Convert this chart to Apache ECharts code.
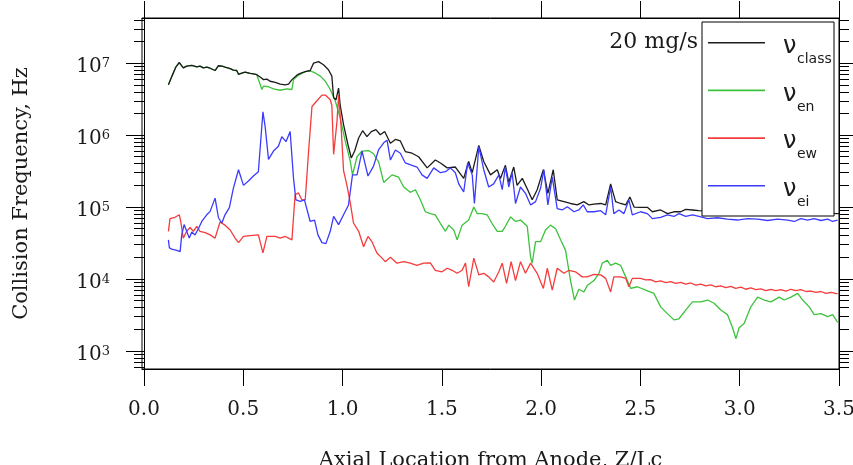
<!DOCTYPE html>
<html>
<head>
<meta charset="utf-8">
<script src="https://cdn.jsdelivr.net/npm/echarts@6/dist/echarts.min.js"></script>
<style>
  html, body { margin: 0; padding: 0; background: #fff; }
  #chart { width: 853px; height: 465px; }
</style>
</head>
<body>
<div id="chart"></div>
<script>
// Axial profiles of collision frequencies (Hz) vs. axial location Z/Lc, 20 mg/s case.

// nu_class
const classX = [0.123,0.141,0.161,0.178,0.198,0.215,0.241,0.266,0.282,0.299,0.316,0.333,0.358,0.375,0.393,0.408,0.434,0.450,0.467,0.476,0.489,0.509,0.535,0.551,0.568,0.585,0.602,0.619,0.635,0.661,0.686,0.711,0.728,0.745,0.770,0.787,0.812,0.837,0.854,0.879,0.904,0.929,0.946,0.955,0.967,0.980,0.988,1.005,1.027,1.044,1.061,1.081,1.101,1.123,1.145,1.168,1.190,1.212,1.241,1.266,1.291,1.316,1.350,1.383,1.426,1.467,1.493,1.527,1.568,1.610,1.635,1.653,1.686,1.711,1.745,1.779,1.795,1.820,1.837,1.862,1.879,1.905,1.930,1.955,1.980,2.011,2.034,2.061,2.081,2.115,2.148,2.182,2.215,2.241,2.266,2.300,2.325,2.350,2.375,2.400,2.426,2.447,2.468,2.501,2.535,2.560,2.602,2.636,2.669,2.703,2.728,2.762,2.794,2.905,3.106,3.308,3.500];
const classY = [5.0e6,6.6e6,8.9e6,1.02e7,8.6e6,9.1e6,9.3e6,8.9e6,9.1e6,8.6e6,8.8e6,8.5e6,7.9e6,9.2e6,9.1e6,8.8e6,8.4e6,8.0e6,7.9e6,7.0e6,7.2e6,7.5e6,7.2e6,7.1e6,6.9e6,6.4e6,5.9e6,6.0e6,5.6e6,5.4e6,5.1e6,5.0e6,5.1e6,5.9e6,6.8e6,7.2e6,7.6e6,7.9e6,1.0e7,1.05e7,9.5e6,8.1e6,6.6e6,3.3e6,3.1e6,4.5e6,2.6e6,1.4e6,7.4e5,4.8e5,6.0e5,9.1e5,1.15e6,9.5e5,1.12e6,1.19e6,1.01e6,1.12e6,7.7e5,8.7e5,8.3e5,5.9e5,5.6e5,5.0e5,3.5e5,4.5e5,4.1e5,3.5e5,3.6e5,2.5e5,4.3e5,3.0e5,7.2e5,4.3e5,2.8e5,3.3e5,2.5e5,3.8e5,2.2e5,3.6e5,2.0e5,2.5e5,1.8e5,1.26e5,1.74e5,3.3e5,1.55e5,3.3e5,1.26e5,1.19e5,1.12e5,1.07e5,1.19e5,1.07e5,1.1e5,1.12e5,1.07e5,2.1e5,1.19e5,1.12e5,1.07e5,1.38e5,1.0e5,9.9e4,9.9e4,8.6e4,9.1e4,8.1e4,8.6e4,8.6e4,9.3e4,9.1e4,8.9e4,8.7e4,8.5e4,8.3e4,8.1e4];

// nu_en
const enX = [0.123,0.141,0.161,0.178,0.198,0.215,0.241,0.266,0.282,0.299,0.316,0.333,0.358,0.375,0.393,0.408,0.434,0.450,0.467,0.476,0.489,0.509,0.535,0.551,0.568,0.594,0.602,0.627,0.652,0.686,0.720,0.745,0.753,0.778,0.812,0.837,0.862,0.888,0.913,0.938,0.963,0.988,1.014,1.039,1.050,1.073,1.098,1.131,1.156,1.182,1.207,1.215,1.249,1.282,1.308,1.341,1.367,1.392,1.417,1.442,1.467,1.493,1.518,1.535,1.560,1.577,1.602,1.635,1.661,1.678,1.703,1.728,1.753,1.779,1.804,1.820,1.846,1.871,1.896,1.930,1.947,1.955,1.972,1.997,2.022,2.047,2.073,2.098,2.123,2.148,2.168,2.190,2.215,2.232,2.266,2.291,2.308,2.333,2.350,2.375,2.400,2.426,2.451,2.485,2.526,2.568,2.602,2.636,2.669,2.694,2.728,2.762,2.804,2.838,2.871,2.905,2.938,2.964,2.981,2.997,3.022,3.056,3.090,3.123,3.157,3.199,3.224,3.258,3.292,3.317,3.350,3.375,3.409,3.443,3.468,3.493];
const enY = [5.0e6,6.6e6,8.9e6,1.02e7,8.6e6,9.1e6,9.3e6,8.9e6,9.1e6,8.6e6,8.8e6,8.5e6,7.9e6,9.2e6,9.1e6,8.8e6,8.4e6,8.0e6,7.9e6,7.0e6,7.2e6,7.5e6,7.2e6,7.1e6,6.9e6,4.3e6,4.8e6,4.7e6,4.4e6,4.2e6,4.4e6,4.3e6,5.9e6,6.8e6,7.6e6,7.8e6,7.3e6,6.6e6,5.6e6,4.3e6,3.0e6,1.74e6,8.1e5,4.3e5,2.8e5,5.0e5,6.0e5,6.1e5,5.5e5,4.2e5,2.2e5,2.2e5,2.8e5,2.6e5,1.9e5,1.6e5,1.74e5,1.26e5,8.6e4,8.1e4,7.8e4,5.9e4,4.6e4,5.6e4,4.8e4,3.5e4,5.6e4,6.6e4,1.0e5,8.1e4,8.1e4,7.8e4,5.9e4,4.6e4,4.6e4,5.4e4,7.3e4,6.3e4,6.6e4,5.4e4,2.0e4,1.66e4,3.3e4,3.3e4,4.8e4,5.6e4,5.0e4,3.5e4,2.5e4,9.5e3,5.1e3,7.2e3,6.6e3,8.1e3,9.5e3,1.2e4,1.66e4,1.82e4,1.55e4,1.66e4,1.55e4,1.07e4,7.4e3,7.8e3,7.0e3,6.3e3,4.1e3,3.3e3,2.7e3,2.8e3,3.7e3,4.8e3,4.8e3,5.1e3,4.6e3,3.7e3,3.2e3,2.1e3,1.48e3,2.1e3,2.4e3,4.1e3,5.6e3,5.1e3,4.8e3,5.6e3,5.1e3,5.6e3,6.3e3,5.1e3,4.1e3,3.2e3,3.3e3,3.0e3,3.2e3,2.5e3];

// nu_ew
const ewX = [0.123,0.131,0.156,0.178,0.185,0.198,0.215,0.232,0.249,0.266,0.282,0.308,0.333,0.358,0.383,0.408,0.434,0.459,0.476,0.501,0.535,0.576,0.599,0.619,0.661,0.686,0.711,0.728,0.745,0.761,0.778,0.795,0.812,0.829,0.846,0.871,0.896,0.913,0.938,0.946,0.955,0.963,0.972,0.980,0.993,1.005,1.022,1.039,1.055,1.081,1.106,1.128,1.148,1.173,1.199,1.215,1.241,1.274,1.308,1.341,1.375,1.408,1.442,1.467,1.501,1.527,1.552,1.577,1.602,1.619,1.635,1.661,1.686,1.711,1.736,1.761,1.787,1.804,1.826,1.849,1.871,1.896,1.921,1.947,1.980,2.011,2.031,2.056,2.081,2.115,2.140,2.173,2.207,2.232,2.266,2.300,2.325,2.350,2.366,2.400,2.426,2.442,2.459,2.501,2.526,2.551,2.577,2.602,2.627,2.653,2.678,2.703,2.728,2.753,2.779,2.804,2.829,2.854,2.879,2.905,2.930,2.955,2.980,3.006,3.031,3.056,3.081,3.106,3.132,3.157,3.182,3.207,3.233,3.258,3.283,3.308,3.334,3.359,3.384,3.409,3.434,3.460,3.493];
const ewY = [4.6e4,6.9e4,7.2e4,7.8e4,6.3e4,3.7e4,4.6e4,5.2e4,4.6e4,5.4e4,4.6e4,4.4e4,4.1e4,3.7e4,6.2e4,5.6e4,4.8e4,3.7e4,3.2e4,3.9e4,4.0e4,4.1e4,2.3e4,3.9e4,3.9e4,3.7e4,3.9e4,3.7e4,3.5e4,1.48e5,1.57e5,1.26e5,1.26e5,6.0e5,2.5e6,3.0e6,3.6e6,3.6e6,3.1e6,2.6e6,5.4e5,5.6e5,1.55e6,3.6e6,1.26e6,3.2e5,2.0e5,1.14e5,6.0e4,4.6e4,2.8e4,3.9e4,3.3e4,2.3e4,1.95e4,1.74e4,2.0e4,1.66e4,1.74e4,1.66e4,1.55e4,1.66e4,1.68e4,1.32e4,1.26e4,1.41e4,1.32e4,1.2e4,1.32e4,1.66e4,7.8e3,1.95e4,1.14e4,1.2e4,1.07e4,9.1e3,1.26e4,1.66e4,8.7e3,1.74e4,9.5e3,1.74e4,1.2e4,1.66e4,1.2e4,7.4e3,1.41e4,7.0e3,1.41e4,1.2e4,1.32e4,1.26e4,1.07e4,1.07e4,1.16e4,1.14e4,1.02e4,6.6e3,1.07e4,1.07e4,1.02e4,7.8e3,1.02e4,1.02e4,9.7e3,9.8e3,9.1e3,9.4e3,8.9e3,9.2e3,8.7e3,9.0e3,8.5e3,8.8e3,8.2e3,8.5e3,8.0e3,8.3e3,7.8e3,8.0e3,7.6e3,7.9e3,7.4e3,7.7e3,7.2e3,7.5e3,7.1e3,7.3e3,6.9e3,7.2e3,6.9e3,7.1e3,6.8e3,7.2e3,6.9e3,7.1e3,6.7e3,6.8e3,6.5e3,6.7e3,6.3e3,6.5e3,6.2e3];

// nu_ei
const eiX = [0.123,0.128,0.140,0.165,0.182,0.190,0.202,0.215,0.228,0.241,0.257,0.274,0.291,0.316,0.333,0.358,0.375,0.392,0.408,0.430,0.450,0.476,0.501,0.526,0.551,0.576,0.599,0.610,0.627,0.652,0.677,0.694,0.715,0.736,0.753,0.765,0.787,0.808,0.837,0.859,0.876,0.896,0.916,0.938,0.955,0.980,1.005,1.030,1.050,1.073,1.098,1.106,1.128,1.156,1.182,1.207,1.224,1.241,1.266,1.291,1.316,1.350,1.375,1.400,1.426,1.459,1.493,1.518,1.543,1.568,1.585,1.610,1.630,1.653,1.664,1.686,1.711,1.736,1.761,1.787,1.804,1.820,1.837,1.854,1.871,1.896,1.921,1.947,1.972,1.997,2.014,2.034,2.056,2.081,2.106,2.132,2.165,2.190,2.212,2.232,2.266,2.300,2.325,2.350,2.366,2.392,2.417,2.442,2.459,2.501,2.535,2.560,2.602,2.636,2.669,2.694,2.728,2.762,2.795,2.838,2.888,2.938,2.989,3.039,3.090,3.140,3.191,3.241,3.275,3.308,3.342,3.375,3.409,3.443,3.468,3.493];
const eiY = [3.5e4,2.7e4,2.6e4,2.5e4,2.4e4,4.1e4,5.7e4,4.6e4,3.7e4,4.5e4,4.1e4,5.0e4,6.3e4,7.8e4,8.7e4,1.33e5,7.1e4,6.0e4,7.8e4,9.8e4,1.82e5,3.3e5,2.0e5,2.3e5,2.7e5,3.1e5,2.1e6,1.32e6,4.6e5,6.0e5,7.0e5,9.5e5,8.1e5,1.12e6,2.5e5,1.26e5,1.2e5,1.26e5,6.3e4,6.6e4,4.1e4,3.2e4,3.1e4,4.6e4,7.4e4,5.7e4,7.8e4,1.07e5,2.8e5,2.8e5,6.0e5,6.2e5,2.7e5,3.7e5,6.3e5,7.8e5,8.5e5,4.5e5,6.2e5,5.6e5,4.1e5,3.8e5,3.6e5,2.8e5,2.5e5,3.5e5,3.0e5,3.1e5,3.5e5,3.0e5,2.1e5,1.62e5,4.1e5,2.8e5,1.12e5,6.9e5,3.3e5,1.9e5,2.1e5,2.8e5,1.74e5,3.6e5,1.9e5,3.0e5,1.12e5,1.9e5,1.55e5,1.07e5,1.19e5,1.82e5,3.3e5,1.07e5,2.6e5,9.5e4,9.1e4,1.01e5,8.6e4,9.1e4,1.07e5,8.6e4,8.6e4,8.9e4,7.8e4,1.9e5,8.1e4,9.1e4,8.1e4,1.26e5,7.8e4,8.6e4,8.1e4,6.9e4,7.2e4,7.8e4,7.4e4,8.1e4,7.4e4,7.8e4,7.4e4,6.9e4,7.1e4,6.8e4,6.6e4,6.9e4,6.8e4,6.5e4,6.8e4,6.6e4,6.3e4,6.9e4,6.6e4,6.9e4,6.5e4,6.8e4,6.3e4,6.6e4];

// axis ticks and labels
const xTickValues = [0.0, 0.5, 1.0, 1.5, 2.0, 2.5, 3.0, 3.5];
const yTickValues = [1e3, 1e4, 1e5, 1e6, 1e7];
const yTickExps = ['3', '4', '5', '6', '7'];
const yMinorTicks = [];
for (let k = 2; k <= 7; k++) {
  for (let m = 2; m <= 9; m++) {
    const v = m * Math.pow(10, k);
    if (v > 561 && v < 4.24e7) yMinorTicks.push(v);
  }
}

const seriesNames = ['class', 'en', 'ew', 'ei'];
const seriesColors = ['#1c1c1c', '#3cc23c', '#f53b3b', '#3b3bff'];
const caseLabel = '20 mg/s';
const xTitle = 'Axial Location from Anode, Z/Lc';
const yTitle = 'Collision Frequency, Hz';

const zip = (xs, ys) => xs.map((x, i) => [x, ys[i]]);
const serif = 'DejaVu Serif';
const textColor = '#1a1a1a';

const X_MIN = -0.01, X_MAX = 3.5, Y_MIN = 561, Y_MAX = 4.24e7;

function yAxisDef(position, ticks, len, withLabels) {
  return {
    type: 'log', logBase: 10, position: position, min: Y_MIN, max: Y_MAX,
    axisLine: { show: true, lineStyle: { color: '#000', width: 1 } },
    axisTick: { show: true, inside: false, length: len, customValues: ticks,
                lineStyle: { color: '#000', width: 1 } },
    axisLabel: withLabels ? {
      show: true, customValues: yTickValues, margin: 32, padding: [8, 0, 0, 0],
      formatter: v => '{b|10}{s|' + yTickExps[yTickValues.indexOf(v)] + '}',
      rich: {
        b: { fontFamily: serif, fontSize: 20, lineHeight: 20, color: textColor, verticalAlign: 'bottom', padding: [9, 0, 0, 0] },
        s: { fontFamily: serif, fontSize: 13, lineHeight: 13, color: textColor, verticalAlign: 'top' }
      }
    } : { show: false },
    splitLine: { show: false },
    minorTick: { show: false }
  };
}

function xAxisDef(position, withLabels) {
  return {
    type: 'value', position: position, min: X_MIN, max: X_MAX,
    axisLine: { show: true, onZero: false, lineStyle: { color: '#000', width: 1 } },
    axisTick: { show: true, inside: false, length: 17, customValues: xTickValues,
                lineStyle: { color: '#000', width: 1 } },
    axisLabel: withLabels ? {
      show: true, customValues: xTickValues, margin: 31,
      formatter: v => v.toFixed(1),
      fontFamily: serif, fontSize: 20, color: textColor
    } : { show: false },
    splitLine: { show: false }
  };
}

const chart = echarts.init(document.getElementById('chart'), null, { renderer: 'canvas' });

const xBottom = xAxisDef('bottom', true);
xBottom.name = xTitle;
xBottom.nameLocation = 'middle';
xBottom.nameGap = 81;
xBottom.nameTextStyle = { fontFamily: serif, fontSize: 21, color: textColor };

const yLeft = yAxisDef('left', yTickValues, 18, true);
yLeft.name = yTitle;
yLeft.nameLocation = 'middle';
yLeft.nameRotate = 90;
yLeft.nameGap = 110;
yLeft.nameTextStyle = { fontFamily: serif, fontSize: 21, color: textColor };

// legend rows
const legendTop = 42.7, legendStep = 47.7;
const legendGraphics = [
  { type: 'rect', z: 100, shape: { x: 702, y: 22, width: 132, height: 194 },
    style: { fill: '#fff', stroke: '#000', lineWidth: 1 } },
  { type: 'text', z: 101, style: { x: 698, y: 42, text: caseLabel, align: 'right', verticalAlign: 'middle',
      font: '22px "DejaVu Serif"', fill: textColor } }
];
seriesNames.forEach((name, i) => {
  const y = legendTop + i * legendStep;
  legendGraphics.push({ type: 'line', z: 101, shape: { x1: 708, y1: y, x2: 765, y2: y },
    style: { stroke: seriesColors[i], lineWidth: 1.6 } });
  legendGraphics.push({ type: 'text', z: 101, style: { x: 783, y: y + 4, text: 'ν', align: 'left', verticalAlign: 'middle',
    font: '24px "DejaVu Sans"', fill: textColor } });
  legendGraphics.push({ type: 'text', z: 101, style: { x: 797, y: y + 16.5, text: name, align: 'left', verticalAlign: 'middle',
    font: '14px "DejaVu Sans"', fill: textColor } });
});

const seriesData = { class: zip(classX, classY), en: zip(enX, enY), ew: zip(ewX, ewY), ei: zip(eiX, eiY) };
const drawOrder = ['en', 'class', 'ew', 'ei'];

chart.setOption({
  animation: false,
  backgroundColor: '#fff',
  grid: { left: 142, right: 14, top: 18, bottom: 96, show: true, borderColor: '#000', borderWidth: 1,
          containLabel: false, outerBoundsMode: 'none' },
  xAxis: [xBottom, xAxisDef('top', false)],
  yAxis: [
    yLeft,
    yAxisDef('left', yMinorTicks, 10, false),
    yAxisDef('right', yTickValues, 18, false),
    yAxisDef('right', yMinorTicks, 10, false)
  ],
  series: drawOrder.map(name => ({
    type: 'line', name: name, xAxisIndex: 0, yAxisIndex: 0,
    data: seriesData[name], showSymbol: false, symbol: 'none',
    lineStyle: { color: seriesColors[seriesNames.indexOf(name)], width: 1.3 },
    clip: true, silent: true
  })),
  graphic: legendGraphics
});
</script>
</body>
</html>
